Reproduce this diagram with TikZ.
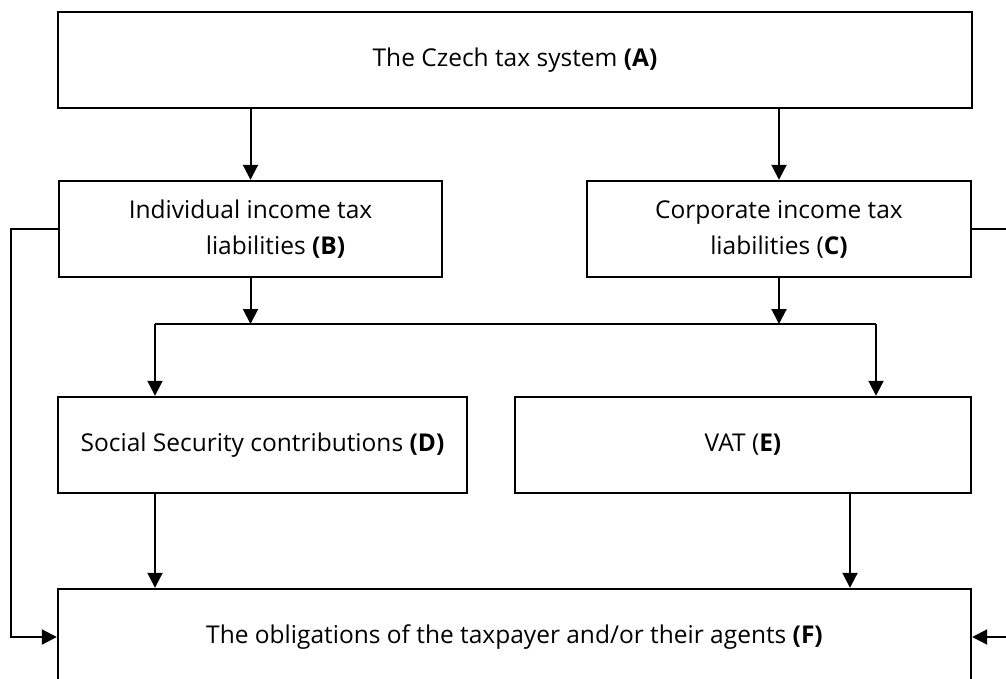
\documentclass[tikz,border=0pt]{standalone}
\usepackage{fontspec}
\setmainfont{Open Sans}
\usetikzlibrary{arrows.meta}
\begin{document}
\begin{tikzpicture}[x=1pt,y=-1pt,
  box/.style={draw=black, line width=2.4pt, fill=white, inner sep=0pt, align=center,
    minimum height=96pt, font=\fontsize{24.5}{36}\selectfont},
  conn/.style={draw=black, line width=2pt},
  arr/.style={conn, -{Triangle[length=15pt,width=15pt]}}]
\useasboundingbox (0,0) rectangle (1006,679);
\node[box, minimum width=914pt] (A) at (515,60) {The Czech tax system \textbf{(A)}};
\node[box, minimum width=383pt] (B) at (250.5,229) {Individual income tax\\\hspace*{50pt}liabilities \textbf{(B)}};
\node[box, minimum width=384pt] (C) at (779,229) {Corporate income tax\\liabilities (\textbf{C)}};
\node[box, minimum width=409pt] (D) at (262.5,445) {Social Security contributions \textbf{(D)}};
\node[box, minimum width=456pt] (E) at (743,445) {VAT (\textbf{E)}};
\node[box, minimum width=913pt] (F) at (514.5,637) {The obligations of the taxpayer and/or their agents \textbf{(F)}};
\coordinate (jl) at (155,324);
\coordinate (jr) at (876,324);
\coordinate (ef) at (850,0);
\coordinate (lc) at (11,0);
\coordinate (rc) at (1018,0);
\draw[arr] (A.south -| B.north) -- (B.north);
\draw[arr] (A.south -| C.north) -- (C.north);
\draw[arr] (B.south) -- (B.south |- jl);
\draw[arr] (C.south) -- (C.south |- jl);
\draw[conn] (jl) -- (jr);
\draw[arr] (jl) -- (jl |- D.north);
\draw[arr] (jr) -- (jr |- E.north);
\draw[arr] (D.south -| jl) -- (jl |- F.north);
\draw[arr] (E.south -| ef) -- (ef |- F.north);
\draw[arr] (B.west) -- (B.west -| lc) -- (lc |- F.west) -- (F.west);
\draw[arr] (C.east) -- (C.east -| rc) -- (rc |- F.east) -- (F.east);
\end{tikzpicture}
\end{document}
